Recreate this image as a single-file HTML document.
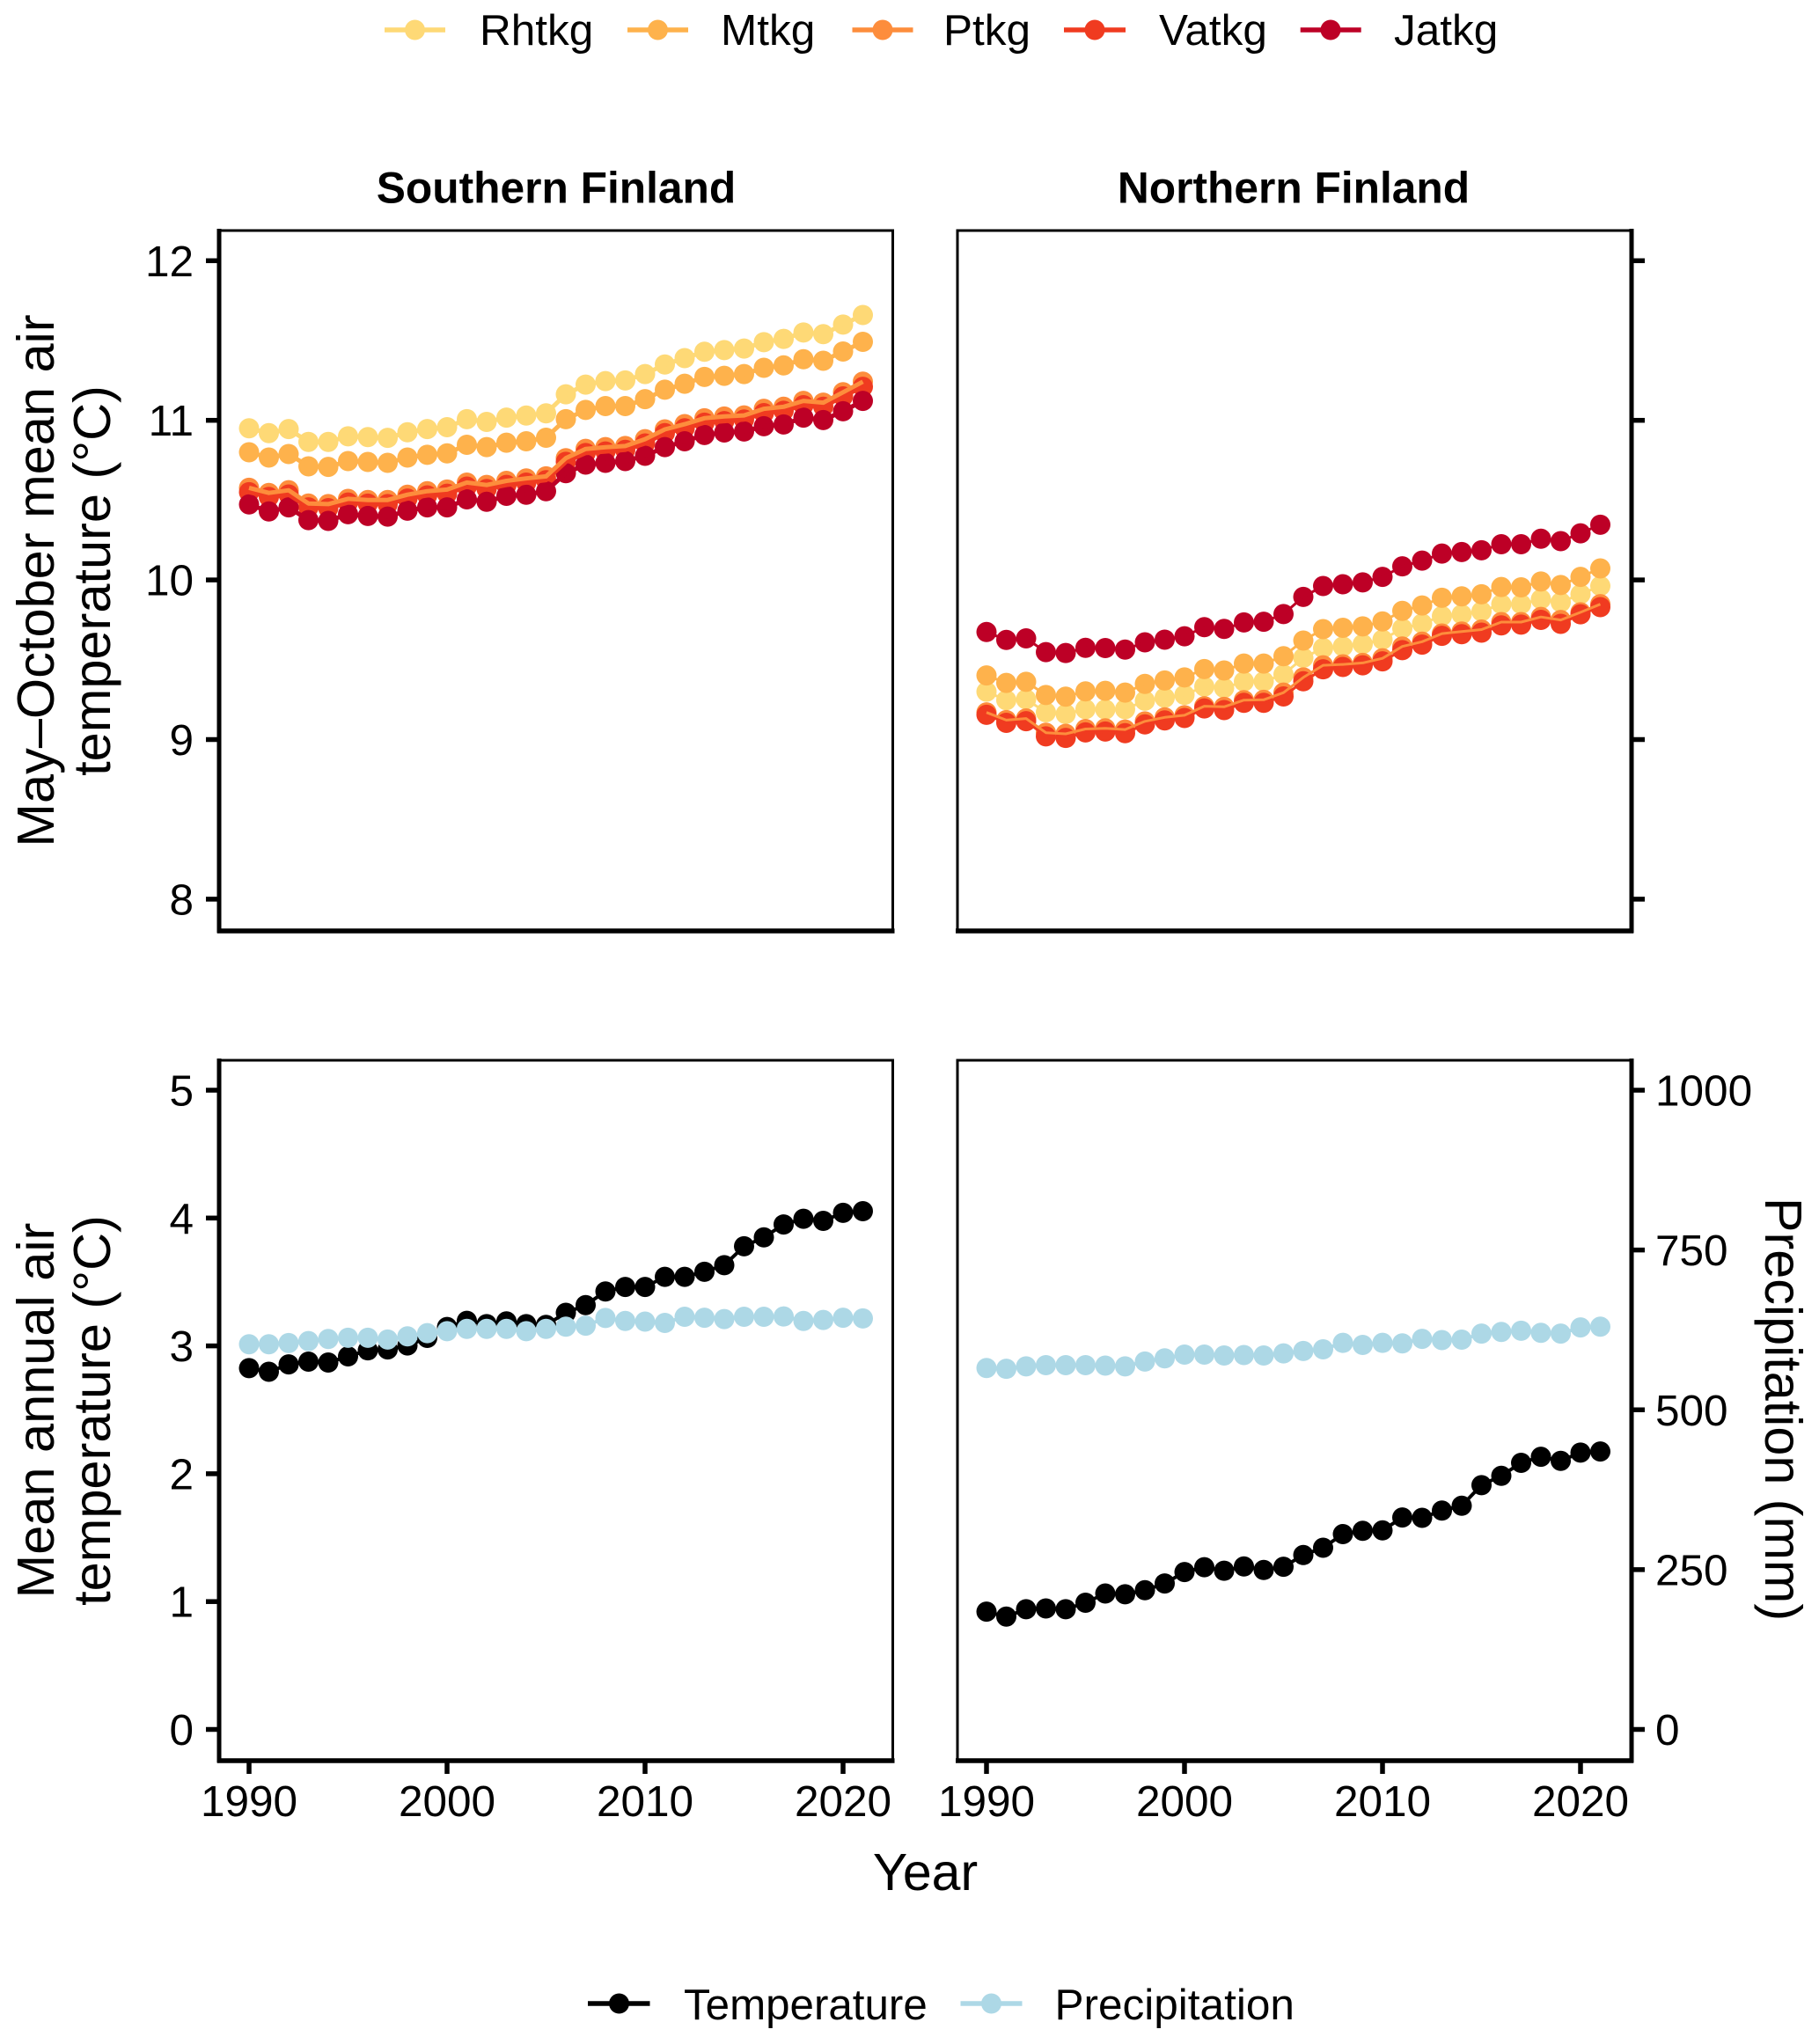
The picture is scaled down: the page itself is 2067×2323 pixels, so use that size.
<!DOCTYPE html>
<html>
<head>
<meta charset="utf-8">
<title>Finland temperature and precipitation</title>
<style>
html,body{margin:0;padding:0;background:#fff;}
svg{display:block;}
text{font-family:"Liberation Sans",Arial,sans-serif;fill:#000;}
</style>
</head>
<body>
<svg id="chart" xmlns="http://www.w3.org/2000/svg" width="2067" height="2323" viewBox="0 0 2067 2323">
<rect x="0" y="0" width="2067" height="2323" fill="#fff"/>
<g id="panels"></g>

<g>
<g><line x1="437" x2="506" y1="34" y2="34" stroke="#FED976" stroke-width="5.5"/><circle cx="471.5" cy="34" r="11.5" fill="#FED976"/><text x="545" y="51" font-size="49.5">Rhtkg</text></g>
<g><line x1="713" x2="782" y1="34" y2="34" stroke="#FEB24C" stroke-width="5.5"/><circle cx="747.5" cy="34" r="11.5" fill="#FEB24C"/><text x="819" y="51" font-size="49.5">Mtkg</text></g>
<g><line x1="968.5" x2="1037.5" y1="34" y2="34" stroke="#FD8D3C" stroke-width="5.5"/><circle cx="1003" cy="34" r="11.5" fill="#FD8D3C"/><text x="1072" y="51" font-size="49.5">Ptkg</text></g>
<g><line x1="1209" x2="1279" y1="34" y2="34" stroke="#F03B20" stroke-width="5.5"/><circle cx="1244" cy="34" r="11.5" fill="#F03B20"/><text x="1317" y="51" font-size="49.5">Vatkg</text></g>
<g><line x1="1477.7" x2="1546.7" y1="34" y2="34" stroke="#BD0026" stroke-width="5.5"/><circle cx="1512" cy="34" r="11.5" fill="#BD0026"/><text x="1584" y="51" font-size="49.5">Jatkg</text></g>
</g>

<text x="632" y="230.5" font-size="49.7" font-weight="700" text-anchor="middle">Southern Finland</text>
<text x="1470" y="230.5" font-size="49.7" font-weight="700" text-anchor="middle">Northern Finland</text>

<g>
<text transform="translate(61,660) rotate(-90)" font-size="59.5" text-anchor="middle">May–October mean air</text>
<text transform="translate(125,660) rotate(-90)" font-size="59.5" text-anchor="middle">temperature (°C)</text>
</g>
<g>
<text transform="translate(61,1603) rotate(-90)" font-size="59.5" text-anchor="middle">Mean annual air</text>
<text transform="translate(125,1603) rotate(-90)" font-size="59.5" text-anchor="middle">temperature (°C)</text>
</g>
<text transform="translate(2006,1361) rotate(90)" font-size="59.3">Precipitation (mm)</text>
<text x="1051.5" y="2148" font-size="59" text-anchor="middle">Year</text>

<g>
<g><line x1="668" x2="738.5" y1="2277" y2="2277" stroke="#000" stroke-width="5.5"/><circle cx="703.5" cy="2277" r="11.5" fill="#000"/><text x="777" y="2295" font-size="49.3">Temperature</text></g>
<g><line x1="1091.5" x2="1161.5" y1="2277" y2="2277" stroke="#ADD8E6" stroke-width="5.5"/><circle cx="1126.5" cy="2277" r="11.5" fill="#ADD8E6"/><text x="1198.5" y="2295" font-size="49.5">Precipitation</text></g>
</g>
</svg>

<script>
const years = [1990,1991,1992,1993,1994,1995,1996,1997,1998,1999,2000,2001,2002,2003,2004,2005,2006,2007,2008,2009,2010,2011,2012,2013,2014,2015,2016,2017,2018,2019,2020,2021];
const xTickYears = [1990,2000,2010,2020];
const topYTicks = [8,9,10,11,12];
const topYLabels = ["8","9","10","11","12"];
const tempTicks = [0,1,2,3,4,5];
const tempLabels = ["0","1","2","3","4","5"];
const precipTicks = [0,250,500,750,1000];
const precipLabels = ["0","250","500","750","1000"];

const southRhtkg = [10.95,10.92,10.945,10.865,10.865,10.90,10.895,10.89,10.925,10.945,10.957,11.007,10.99,11.017,11.03,11.044,11.163,11.224,11.246,11.25,11.29,11.35,11.39,11.43,11.44,11.45,11.49,11.51,11.55,11.54,11.60,11.66];
const southMtkg = [10.80,10.767,10.789,10.712,10.708,10.745,10.739,10.734,10.767,10.784,10.793,10.847,10.832,10.86,10.869,10.891,11.007,11.065,11.089,11.089,11.133,11.192,11.229,11.272,11.279,11.29,11.329,11.344,11.383,11.373,11.431,11.492];
const southPtkg = [10.577,10.545,10.562,10.479,10.475,10.508,10.501,10.501,10.534,10.556,10.566,10.61,10.595,10.621,10.636,10.649,10.763,10.821,10.832,10.839,10.882,10.943,10.976,11.013,11.024,11.031,11.072,11.085,11.122,11.111,11.176,11.242];
const southVatkg = [10.55,10.52,10.535,10.455,10.45,10.485,10.478,10.475,10.51,10.53,10.54,10.585,10.57,10.595,10.61,10.625,10.74,10.795,10.805,10.815,10.855,10.92,10.95,10.985,10.995,11.005,11.045,11.06,11.095,11.085,11.15,11.21];
const southJatkg = [10.473,10.429,10.455,10.375,10.37,10.412,10.401,10.397,10.434,10.455,10.455,10.505,10.49,10.527,10.534,10.556,10.669,10.723,10.734,10.745,10.778,10.832,10.869,10.908,10.924,10.93,10.963,10.974,11.017,11.002,11.057,11.122];

const northRhtkg = [9.30,9.247,9.252,9.171,9.16,9.19,9.188,9.19,9.243,9.262,9.28,9.332,9.323,9.364,9.364,9.408,9.512,9.573,9.583,9.598,9.626,9.696,9.727,9.774,9.784,9.803,9.848,9.848,9.879,9.86,9.911,9.962];
const northMtkg = [9.402,9.355,9.362,9.279,9.269,9.302,9.305,9.294,9.349,9.37,9.389,9.442,9.433,9.476,9.476,9.522,9.62,9.692,9.70,9.709,9.74,9.806,9.84,9.888,9.897,9.91,9.956,9.954,9.99,9.968,10.019,10.072];
const northPtkg = [9.17,9.122,9.132,9.043,9.036,9.066,9.07,9.063,9.114,9.139,9.152,9.209,9.205,9.247,9.249,9.294,9.389,9.465,9.471,9.48,9.509,9.583,9.613,9.664,9.677,9.689,9.736,9.736,9.768,9.749,9.797,9.848];
const northVatkg = [9.155,9.105,9.115,9.02,9.01,9.045,9.05,9.04,9.095,9.12,9.135,9.195,9.185,9.23,9.23,9.27,9.365,9.44,9.455,9.465,9.49,9.56,9.595,9.65,9.66,9.67,9.715,9.72,9.75,9.725,9.785,9.83];
const northJatkg = [9.674,9.624,9.634,9.548,9.542,9.575,9.573,9.564,9.609,9.626,9.647,9.704,9.693,9.734,9.738,9.786,9.894,9.962,9.973,9.985,10.019,10.085,10.121,10.165,10.175,10.186,10.224,10.224,10.258,10.243,10.292,10.346];

const southTemp = [2.826,2.798,2.855,2.877,2.87,2.918,2.965,2.972,3.003,3.063,3.148,3.196,3.17,3.192,3.17,3.164,3.259,3.319,3.426,3.461,3.461,3.54,3.54,3.58,3.631,3.779,3.849,3.95,3.994,3.978,4.041,4.054];
const southPrecip = [602.5,602.5,604.4,607.6,610.8,612.7,612.7,610,615,620,623,626.6,626.6,626.6,623,626.6,630,631.6,643.7,639,638,636,645.6,644,642,645.6,645.6,646,639,640.5,644,643];
const northTemp = [0.921,0.883,0.94,0.946,0.94,0.991,1.063,1.057,1.089,1.142,1.231,1.269,1.241,1.275,1.247,1.272,1.364,1.421,1.528,1.554,1.557,1.658,1.655,1.712,1.75,1.911,1.984,2.085,2.133,2.101,2.165,2.174];
const northPrecip = [565.4,564.1,568,569.9,569.9,569.9,569.2,568,575.6,580.6,586.3,586.3,585,585.7,585,588.2,592,594.6,604.7,601.5,604.7,604,611,609.1,609.8,619.3,621.8,623.7,620.5,619.3,628.8,630];

const NS = 'http://www.w3.org/2000/svg';
const root = document.getElementById('panels');
const LEFT = {x0: 249, x1: 1014.5};
const RIGHT = {x0: 1088, x1: 1854};
const TOP = {y0: 262, y1: 1058};
const BOTTOM = {y0: 1205, y1: 2001};

function xLeft(yr) { return 283 + (yr - 1990) * 22.5; }
function xRight(yr) { return 1121 + (yr - 1990) * 22.5; }
function yTop(v) { return 477.7 + (11 - v) * 181.4; }
function yTemp(v) { return 1965.5 - v * 145.3; }
function yPrecip(v) { return 1965.5 - (v / 200) * 145.3; }

function mk(tag, parent, attrs) {
  const el = document.createElementNS(NS, tag);
  for (const k in attrs) el.setAttribute(k, attrs[k]);
  parent.appendChild(el);
  return el;
}

function drawFrame(g, h, v, thickSide) {
  const frame = mk('rect', g, {x: h.x0, y: v.y0, width: h.x1 - h.x0, height: v.y1 - v.y0, fill: 'none', stroke: '#000', 'stroke-width': 3});
  
  
  const xa = mk('line', g, {x1: h.x0 - 2, x2: h.x1 + 2, y1: v.y1, y2: v.y1, stroke: '#000', 'stroke-width': 5.5});
  
  
  const sx = thickSide === 'left' ? h.x0 : h.x1;
  const ya = mk('line', g, {x1: sx, x2: sx, y1: v.y0 - 2, y2: v.y1 + 2.5, stroke: '#000', 'stroke-width': 5});
  
  
}

function drawYTicks(g, h, side, ticks, labels, yFn) {
  ticks.forEach(function (t, i) {
    const y = yFn(t);
    const x = side === 'left' ? h.x0 : h.x1;
    const dir = side === 'left' ? -1 : 1;
    const tick = mk('line', g, {x1: x, x2: x + dir * 15, y1: y, y2: y, stroke: '#000', 'stroke-width': 5.5});
    
    
    if (labels) {
      const lab = mk('text', g, {x: side === 'left' ? x - 29 : x + 27, y: y + 17.5, 'font-size': 49.5, 'text-anchor': side === 'left' ? 'end' : 'start'});
      lab.textContent = labels[i];
      
      
    }
  });
}

function drawXTicks(g, v, xFn) {
  xTickYears.forEach(function (yr) {
    const x = xFn(yr);
    const tick = mk('line', g, {x1: x, x2: x, y1: v.y1, y2: v.y1 + 15, stroke: '#000', 'stroke-width': 5.5});
    
    
    const lab = mk('text', g, {x: x, y: 2064, 'font-size': 49.5, 'text-anchor': 'middle'});
    lab.textContent = String(yr);
    
    
  });
}

function drawPoints(g, values, color, xFn, yFn) {
  values.forEach(function (v, i) {
    const c = mk('circle', g, {cx: xFn(years[i]), cy: yFn(v), r: 11.5, fill: color});
    
    
  });
}

function drawLine(g, values, color, width, xFn, yFn) {
  const pts = values.map(function (v, i) { return xFn(years[i]).toFixed(1) + ',' + yFn(v).toFixed(1); }).join(' ');
  const l = mk('polyline', g, {points: pts, fill: 'none', stroke: color, 'stroke-width': width, 'stroke-linejoin': 'round'});
  
  
}

function drawForestPanel(name, h, side, labels, xFn, lineWidth, rows) {
  const g = mk('g', root, {});
  
  
  rows.forEach(function (r) { drawPoints(g, r[0], r[1], xFn, yTop); });
  rows.slice().reverse().forEach(function (r) { drawLine(g, r[0], r[1], lineWidth, xFn, yTop); });
  drawFrame(g, h, TOP, side);
  drawYTicks(g, h, side, topYTicks, labels, yTop);
}

function drawClimatePanel(name, h, side, xFn, temp, precip) {
  const g = mk('g', root, {});
  
  
  drawLine(g, temp, '#000000', 4, xFn, yTemp);
  drawPoints(g, temp, '#000000', xFn, yTemp);
  drawLine(g, precip, '#ADD8E6', 4, xFn, yPrecip);
  drawPoints(g, precip, '#ADD8E6', xFn, yPrecip);
  drawFrame(g, h, BOTTOM, side);
  drawXTicks(g, BOTTOM, xFn);
  if (side === 'left') drawYTicks(g, h, 'left', tempTicks, tempLabels, yTemp);
  else drawYTicks(g, h, 'right', precipTicks, precipLabels, yPrecip);
}

drawForestPanel('southern-forest-panel', LEFT, 'left', topYLabels, xLeft, 5, [
  [southRhtkg, '#FED976'], [southMtkg, '#FEB24C'], [southPtkg, '#FD8D3C'], [southVatkg, '#F03B20'], [southJatkg, '#BD0026']
]);
drawForestPanel('northern-forest-panel', RIGHT, 'right', null, xRight, 3, [
  [northRhtkg, '#FED976'], [northMtkg, '#FEB24C'], [northPtkg, '#FD8D3C'], [northVatkg, '#F03B20'], [northJatkg, '#BD0026']
]);
drawClimatePanel('southern-climate-panel', LEFT, 'left', xLeft, southTemp, southPrecip);
drawClimatePanel('northern-climate-panel', RIGHT, 'right', xRight, northTemp, northPrecip);
</script>
</body>
</html>
